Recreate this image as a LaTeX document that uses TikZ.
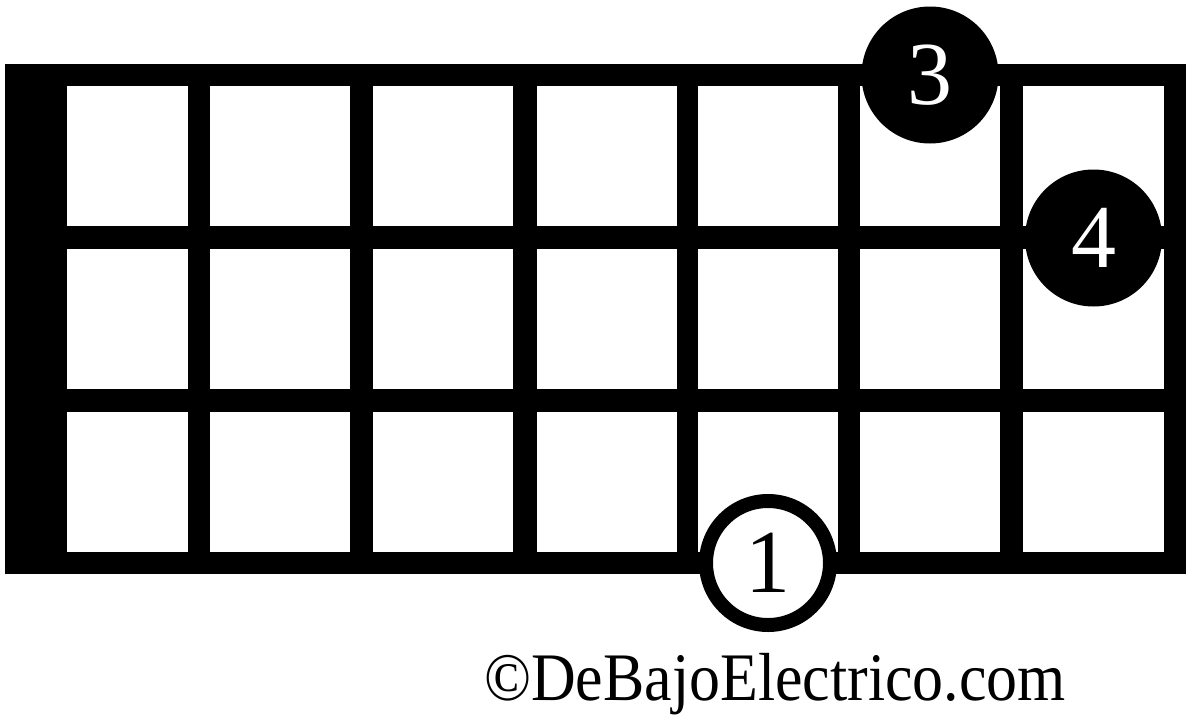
\documentclass[tikz,border=0pt]{standalone}
\usepackage{fontspec}
\setmainfont{Liberation Serif}
\tikzset{
  cell/.style={fill=white},
  dotfull/.style={circle, fill=black, text=white, inner sep=0pt, minimum size=137pt, font=\fontsize{90}{90}\selectfont},
  dotopen/.style={circle, fill=white, draw=black, line width=14pt, text=black, inner sep=0pt, minimum size=124pt, font=\fontsize{90}{90}\selectfont},
}
\begin{document}
\begin{tikzpicture}[x=1pt,y=-1pt]
\useasboundingbox (0,0) rectangle (1198,720);
\fill[black] (5,64) rectangle (1186,574);
\foreach \xa/\xb in {67/188, 210/350, 373/513, 537/677, 698/838, 860/1000, 1023/1164}
  \foreach \ya/\yb in {86/226, 249/389, 412/552}
    \fill[cell] (\xa,\ya) rectangle (\xb,\yb);
\node[dotfull] (f3) at (930,75) {3};
\node[dotfull] (f4) at (1093.5,238) {4};
\node[dotopen] (f1) at (768,563) {1};
\node[anchor=base west, inner sep=0pt, font=\fontsize{68}{68}\selectfont] (copy) at (484,700.5) {\scalebox{0.91}[1]{©DeBajoElectrico.com}};
\end{tikzpicture}
\end{document}
